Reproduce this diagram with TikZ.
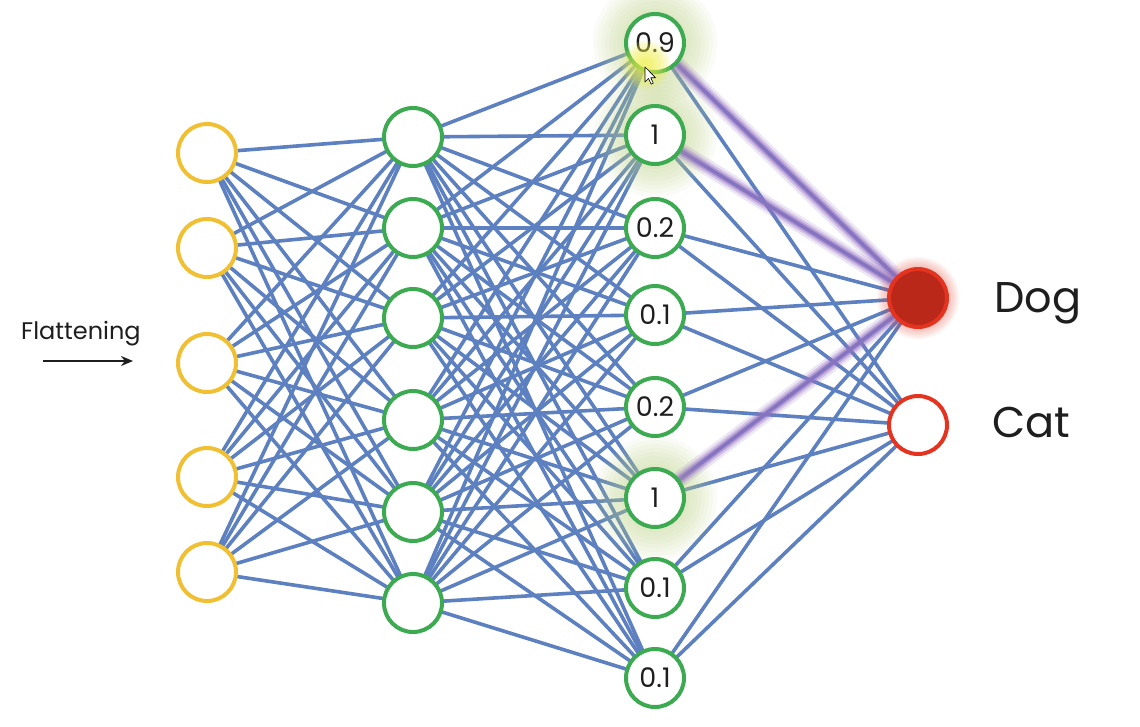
\documentclass[tikz,border=0pt]{standalone}
\usepackage{fontspec}
\setmainfont{Poppins}
\usetikzlibrary{arrows.meta}
\pgfdeclarelayer{bg}
\pgfdeclarelayer{edges}
\pgfdeclarelayer{glow}
\pgfsetlayers{bg,edges,glow,main}
\definecolor{edgeblue}{RGB}{92,128,192}
\definecolor{inyellow}{RGB}{240,192,50}
\definecolor{hgreen}{RGB}{60,170,80}
\definecolor{outred}{RGB}{228,52,32}
\definecolor{dogfill}{RGB}{186,40,26}
\definecolor{glowc}{RGB}{190,212,130}
\definecolor{spotc}{RGB}{240,240,70}
\definecolor{purp}{RGB}{150,115,195}
\definecolor{txt}{RGB}{30,30,30}
\begin{document}
\begin{tikzpicture}[x=1pt,y=-1pt,
  neuron/.style={circle,minimum size=58pt,inner sep=0pt,line width=4pt,fill=white},
  inp/.style={neuron,draw=inyellow},
  hid/.style={neuron,draw=hgreen,font=\fontsize{27}{27}\selectfont,text=txt},
  outn/.style={neuron,draw=outred},
  edge/.style={draw=edgeblue,line width=3.6pt},
  lbl/.style={font=\fontsize{43}{43}\selectfont,text=txt,anchor=base west,inner sep=0pt}]
\useasboundingbox (0,0) rectangle (1140,726);
\begin{pgfonlayer}{bg}
\fill[white] (0,0) rectangle (1140,726);
\end{pgfonlayer}
% nodes
\foreach \y [count=\i] in {153,248,363,477,572}
  \node[inp] (i\i) at (207,\y) {};
\foreach \y [count=\i] in {137,228,318,420,512,603}
  \node[hid] (a\i) at (413,\y) {};
\foreach \y/\t [count=\i] in {43/0.9,135/1,228/0.2,315/0.1,407/0.2,498/1,588/0.1,678/0.1}
  \node[hid] (b\i) at (655,\y) {\t};
\node[outn,fill=dogfill] (dog) at (918,298) {};
\node[outn] (cat) at (918,425) {};
% labels
\node[lbl] (doglbl) at (994,312) {Dog};
\node[lbl] (catlbl) at (992,437) {Cat};
\node[font=\fontsize{24}{24}\selectfont,text=txt,anchor=base west,inner sep=0pt] (flat) at (21,339) {Flattening};
\coordinate (fa) at (43,361);
\coordinate (fb) at (133,361);
\draw[line width=2.4pt,-{Stealth[length=12pt,width=10pt]},txt] (fa) -- (fb);
% edges
\begin{pgfonlayer}{edges}
\foreach \i in {1,...,5}
  \foreach \j in {1,...,6}
    \draw[edge] (i\i.center) -- (a\j.center);
\foreach \i in {1,...,6}
  \foreach \j in {1,...,8}
    \draw[edge] (a\i.center) -- (b\j.center);
\foreach \i in {1,...,8}
  \foreach \o in {dog,cat}
    \draw[edge] (b\i.center) -- (\o.center);
\end{pgfonlayer}
% glows and highlighted connections
\begin{pgfonlayer}{glow}
\foreach \n in {b1,b2,b6}
  \foreach \r in {34,38,...,62}
    \fill[glowc,opacity=0.07] (\n.center) circle (\r);
\foreach \r in {31,33,...,41}
  \fill[outred,opacity=0.06] (dog.center) circle (\r);
\foreach \n in {b1,b2,b6}{
  \draw[purp,opacity=0.18,line width=16pt] (\n.center) -- (dog.center);
  \draw[purp,opacity=0.3,line width=11pt] (\n.center) -- (dog.center);
  \draw[purp,opacity=0.5,line width=7pt] (\n.center) -- (dog.center);
}
\end{pgfonlayer}
% highlight spot and cursor
\coordinate (spot) at (646,65);
\foreach \r in {6,9,...,24}
  \fill[spotc,opacity=0.16] (spot) circle (\r);
\coordinate (cur) at (645,67);
\draw[fill=white,draw=black,line width=0.6pt,line join=round]
  (cur) -- ++(0,15) -- ++(3.5,-3.5) -- ++(2.6,5.6) -- ++(2.2,-1) -- ++(-2.6,-5.4) -- ++(4.8,0) -- cycle;
\end{tikzpicture}
\end{document}
